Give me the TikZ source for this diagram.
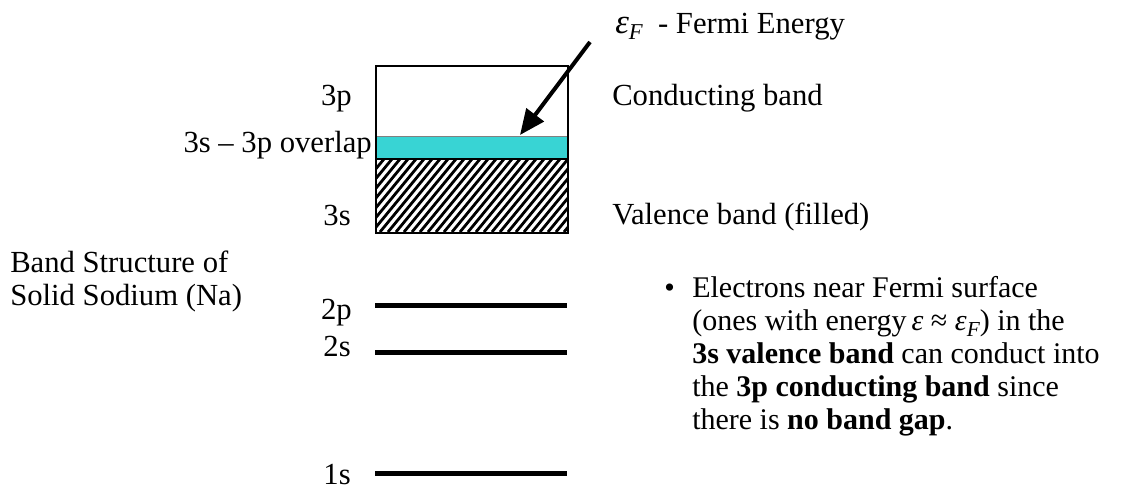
\documentclass[tikz,border=0pt]{standalone}
\usepackage{fontspec}
\setmainfont{Liberation Serif}
\usetikzlibrary{arrows.meta}
\definecolor{bandcyan}{RGB}{56,212,212}
\newcommand{\epsF}{{\fontsize{26}{26}\selectfont\itshape ε}\raisebox{-0.22em}{\fontsize{17}{17}\selectfont\itshape F}}
\begin{document}
\begin{tikzpicture}[x=0.75pt,y=-0.75pt,
  lbl/.style={inner sep=0pt, font=\fontsize{23}{25}\selectfont},
  body/.style={inner sep=0pt, anchor=base west, font=\fontsize{22.5}{25}\selectfont},
  level/.style={line width=3.75pt},
  boxline/.style={line width=1.5pt},
  hatchline/.style={line width=2.1pt}]
\useasboundingbox (0,0) rectangle (1122,489);

% band box
\fill[white] (375,65) rectangle (567,136);
\fill[bandcyan] (375,136) rectangle (567,159);
\begin{scope}
  \clip (375,159) rectangle (567,232);
  \foreach \x in {300,308,...,580} {
    \draw[hatchline] (\x,232) -- ++(60,-73);
  }
\end{scope}
\draw[line width=0.8pt] (375,159) -- (567,159);
\draw[line width=0.5pt, gray] (375,136) -- (567,136);
\node[draw, boxline, inner sep=0pt, minimum width=192*0.75pt, minimum height=167*0.75pt, anchor=north west] (band) at (375,65) {};

% levels
\coordinate (l2pa) at (375,305); \coordinate (l2pb) at (567,305);
\coordinate (l2sa) at (375,352); \coordinate (l2sb) at (567,352);
\coordinate (l1sa) at (375,473); \coordinate (l1sb) at (567,473);
\draw[level] (l2pa) -- (l2pb);
\draw[level] (l2sa) -- (l2sb);
\draw[level] (l1sa) -- (l1sb);

% left labels
\node[lbl, anchor=base east] (n3p) at (352,105) {3p};
\node[lbl, anchor=base east] (nov) at (372,152) {3s – 3p overlap};
\node[lbl, anchor=base east] (n3s) at (351,225) {3s};
\node[lbl, anchor=base east] (n2p) at (352,319) {2p};
\node[lbl, anchor=base east] (n2s) at (351,356) {2s};
\node[lbl, anchor=base east] (n1s) at (351,484) {1s};
\node[lbl, anchor=base west] (title1) at (10,272) {Band Structure of};
\node[lbl, anchor=base west] (title2) at (10,305) {Solid Sodium (Na)};

% right labels
\node[lbl, anchor=base west] (cond) at (612,105) {Conducting band};
\node[lbl, anchor=base west] (val) at (612,224) {Valence band (filled)};
\node[lbl, anchor=base west] (fermi) at (615,33) {\epsF\ \ - Fermi Energy};

% arrow
\coordinate (atail) at (590,42);
\coordinate (atip) at (520,135);
\draw[line width=3pt, -{Triangle[length=19pt,width=16pt]}] (atail) -- (atip);

% bullet text
\node[body] (bul) at (664,297) {•};
\node[body] (t1) at (692,297) {Electrons near Fermi surface};
\node[body] (t2) at (692,330) {(ones with energy\,{\itshape ε} ≈ {\itshape ε}\raisebox{-0.2em}{\fontsize{16}{16}\selectfont\itshape F}) in the};
\node[body] (t3) at (692,363) {\textbf{3s valence band} can conduct into};
\node[body] (t4) at (692,396) {the \textbf{3p conducting band} since};
\node[body] (t5) at (692,429) {there is \textbf{no band gap}.};
\end{tikzpicture}
\end{document}
